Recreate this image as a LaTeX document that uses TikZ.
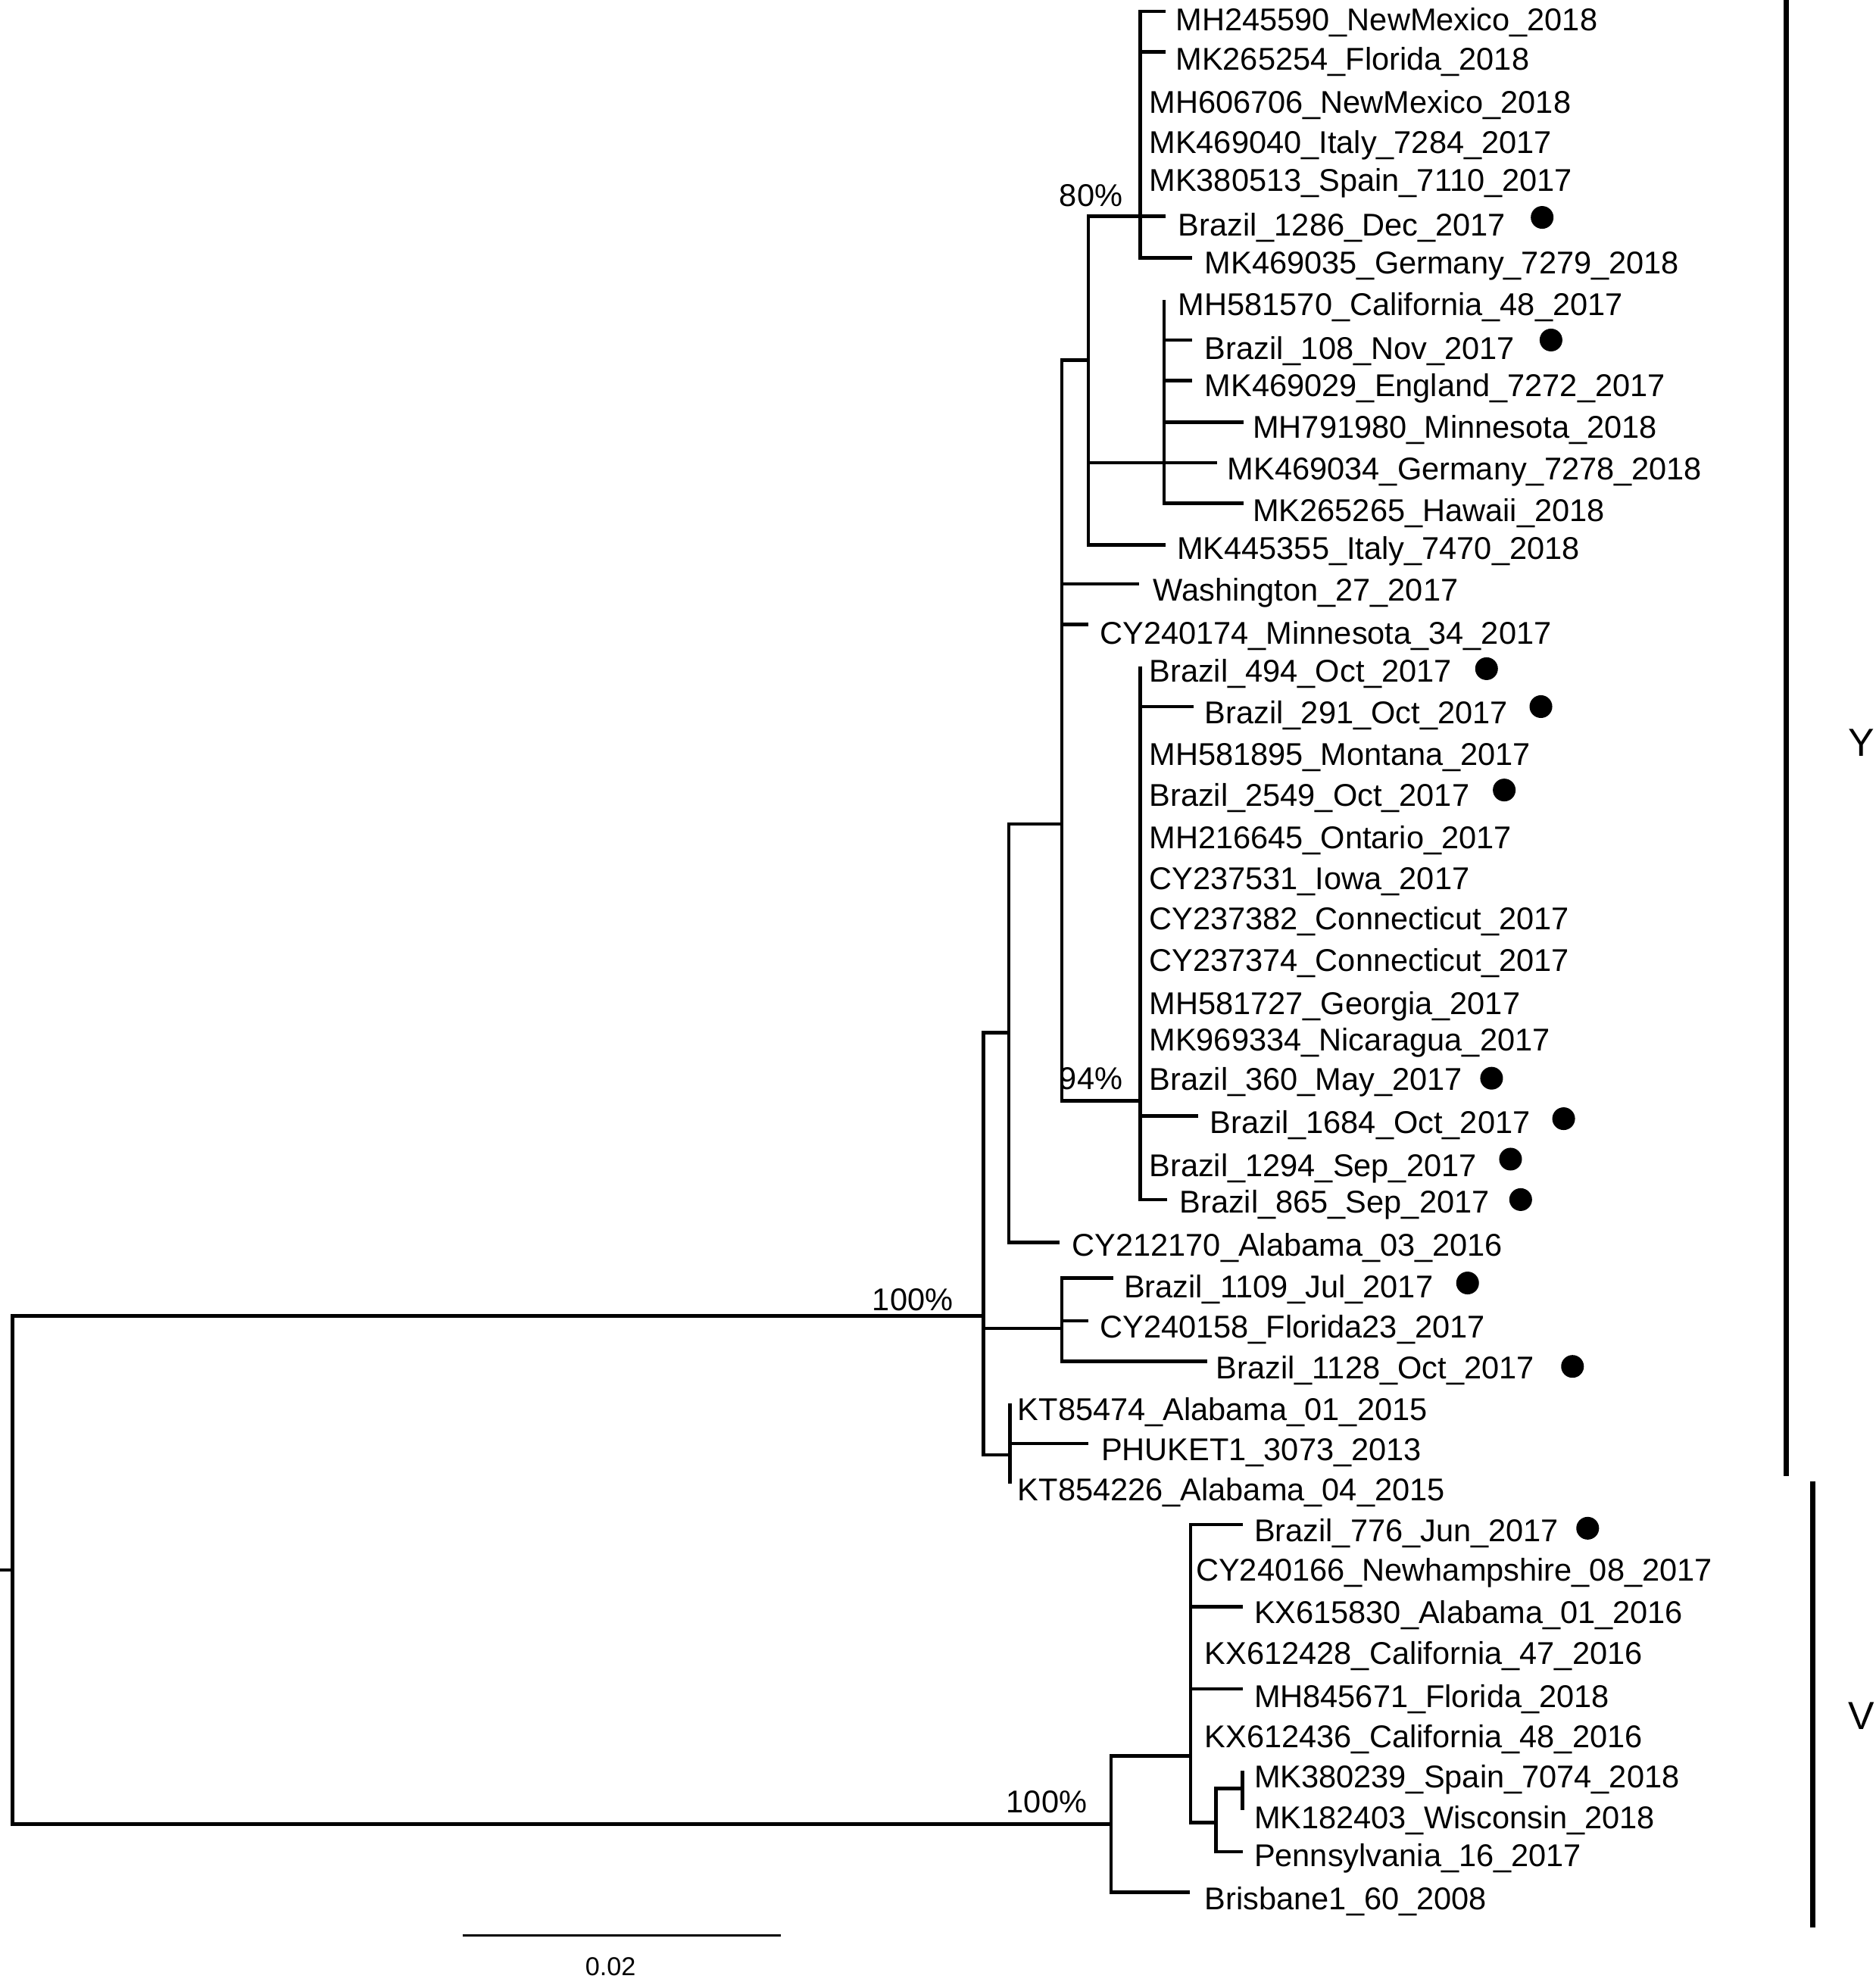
\documentclass[tikz,border=0pt]{standalone}
\usepackage{fontspec}
\setmainfont{Liberation Sans}
\newcommand\lbl[4]{\node[lab] (#1) at (#2,#3+8.5) {#4};}
\begin{document}
\begin{tikzpicture}[x=1pt,y=-1pt,
  br/.style={line width=2.7pt},
  bar/.style={line width=3.8pt},
  lab/.style={inner sep=0pt, anchor=base west, font=\fontsize{24.9}{29}\selectfont},
  pct/.style={inner sep=0pt, anchor=base west, font=\fontsize{24.9}{29}\selectfont},
  clade/.style={inner sep=0pt, anchor=base west, font=\fontsize{31}{36}\selectfont},
  sclab/.style={inner sep=0pt, anchor=base, font=\fontsize{20.5}{24}\selectfont},
  dot/.style={circle, fill=black, inner sep=0pt, minimum size=18pt}]
\useasboundingbox (0,0) rectangle (1484,1568);
\fill[white] (0,0) rectangle (1484,1568);

% internal nodes and leaf tips
\coordinate (rs) at (0,1242);
\coordinate (root) at (10,1242);
\coordinate (nY) at (778,1041);
\coordinate (nV) at (879,1443);
\coordinate (nY1) at (798,817);
\coordinate (nB) at (840,1051);
\coordinate (nKT) at (799,1151);
\coordinate (nY2) at (840,652);
\coordinate (lCY212170) at (838,983);
\coordinate (nA) at (861,285);
\coordinate (lWash) at (901,462);
\coordinate (lCY240174) at (861,494);
\coordinate (n94) at (902,871);
\coordinate (nA1) at (902,171);
\coordinate (nA2) at (921,366);
\coordinate (lMK445355) at (922,431);
\coordinate (lMH245590) at (922,9);
\coordinate (lMK265254) at (922,41);
\coordinate (lB1286) at (922,171);
\coordinate (lMK469035) at (943,204);
\coordinate (lMH581570) at (921,237);
\coordinate (lB108) at (943,269);
\coordinate (lMK469029) at (943,301);
\coordinate (lMH791980) at (984,334);
\coordinate (lMK469034) at (963,366);
\coordinate (lMK265265) at (984,398);
\coordinate (lB494) at (902,527);
\coordinate (lB291) at (944,559);
\coordinate (lB1684) at (948,883);
\coordinate (lB865) at (923,949);
\coordinate (lB1109) at (881,1011);
\coordinate (lCY240158) at (861,1045);
\coordinate (lB1128) at (955,1077);
\coordinate (lKT85474) at (799,1110);
\coordinate (lPHUKET) at (861,1142);
\coordinate (lKT854226) at (799,1174);
\coordinate (nV1) at (942,1389);
\coordinate (lBrisbane) at (941,1497);
\coordinate (lB776) at (983,1206);
\coordinate (lKX615830) at (983,1271);
\coordinate (lMH845671) at (983,1336);
\coordinate (nV2) at (962,1442);
\coordinate (nV3) at (983,1415);
\coordinate (lPenn) at (983,1465);
\coordinate (lMK380239) at (983,1401);
\coordinate (lMK182403) at (983,1432);

% branches
\draw[br] (rs) -- (root);
\draw[br] (root) |- (nY);
\draw[br] (root) |- (nV);
\draw[br] (nY) |- (nY1);
\draw[br] (nY) |- (nB);
\draw[br] (nY) |- (nKT);
\draw[br] (nY1) |- (nY2);
\draw[br] (nY1) |- (lCY212170);
\draw[br] (nY2) |- (nA);
\draw[br] (nY2) |- (lWash);
\draw[br] (nY2) |- (lCY240174);
\draw[br] (nY2) |- (n94);
\draw[br] (nA) |- (nA1);
\draw[br] (nA) |- (nA2);
\draw[br] (nA) |- (lMK445355);
\draw[br] (nA1) |- (lMH245590);
\draw[br] (nA1) |- (lMK265254);
\draw[br] (nA1) |- (lB1286);
\draw[br] (nA1) |- (lMK469035);
\draw[br] (nA2) -- (lMH581570);
\draw[br] (nA2) |- (lB108);
\draw[br] (nA2) |- (lMK469029);
\draw[br] (nA2) |- (lMH791980);
\draw[br] (nA2) |- (lMK469034);
\draw[br] (nA2) |- (lMK265265);
\draw[br] (n94) -- (lB494);
\draw[br] (n94) |- (lB291);
\draw[br] (n94) |- (lB1684);
\draw[br] (n94) |- (lB865);
\draw[br] (nB) |- (lB1109);
\draw[br] (nB) |- (lCY240158);
\draw[br] (nB) |- (lB1128);
\draw[br] (nKT) -- (lKT85474);
\draw[br] (nKT) |- (lPHUKET);
\draw[br] (nKT) -- (lKT854226);
\draw[br] (nV) |- (nV1);
\draw[br] (nV) |- (lBrisbane);
\draw[br] (nV1) |- (lB776);
\draw[br] (nV1) |- (lKX615830);
\draw[br] (nV1) |- (lMH845671);
\draw[br] (nV1) |- (nV2);
\draw[br] (nV2) |- (nV3);
\draw[br] (nV2) |- (lPenn);
\draw[br] (nV3) -- (lMK380239);
\draw[br] (nV3) -- (lMK182403);

% labels
\lbl{tMH245590}{930}{16}{MH245590\_NewMexico\_2018}
\lbl{tMK265254}{930}{47}{MK265254\_Florida\_2018}
\lbl{tMH606706}{909}{81}{MH606706\_NewMexico\_2018}
\lbl{tMK469040}{909}{113}{MK469040\_Italy\_7284\_2017}
\lbl{tMK380513}{909}{143}{MK380513\_Spain\_7110\_2017}
\lbl{tB1286}{932}{178}{Brazil\_1286\_Dec\_2017}
\lbl{tMK469035}{953}{208}{MK469035\_Germany\_7279\_2018}
\lbl{tMH581570}{932}{241}{MH581570\_California\_48\_2017}
\lbl{tB108}{953}{276}{Brazil\_108\_Nov\_2017}
\lbl{tMK469029}{953}{305}{MK469029\_England\_7272\_2017}
\lbl{tMH791980}{991}{338}{MH791980\_Minnesota\_2018}
\lbl{tMK469034}{971}{371}{MK469034\_Germany\_7278\_2018}
\lbl{tMK265265}{991}{404}{MK265265\_Hawaii\_2018}
\lbl{tMK445355}{931}{434}{MK445355\_Italy\_7470\_2018}
\lbl{tWash}{912}{467}{Washington\_27\_2017}
\lbl{tCY240174}{870}{501}{CY240174\_Minnesota\_34\_2017}
\lbl{tB494}{909}{531}{Brazil\_494\_Oct\_2017}
\lbl{tB291}{953}{564}{Brazil\_291\_Oct\_2017}
\lbl{tMH581895}{909}{597}{MH581895\_Montana\_2017}
\lbl{tB2549}{909}{629}{Brazil\_2549\_Oct\_2017}
\lbl{tMH216645}{909}{663}{MH216645\_Ontario\_2017}
\lbl{tCY237531}{909}{695}{CY237531\_Iowa\_2017}
\lbl{tCY237382}{909}{727}{CY237382\_Connecticut\_2017}
\lbl{tCY237374}{909}{760}{CY237374\_Connecticut\_2017}
\lbl{tMH581727}{909}{794}{MH581727\_Georgia\_2017}
\lbl{tMK969334}{909}{823}{MK969334\_Nicaragua\_2017}
\lbl{tB360}{909}{854}{Brazil\_360\_May\_2017}
\lbl{tB1684}{957}{888}{Brazil\_1684\_Oct\_2017}
\lbl{tB1294}{909}{922}{Brazil\_1294\_Sep\_2017}
\lbl{tB865}{933}{951}{Brazil\_865\_Sep\_2017}
\lbl{tCY212170}{848}{985}{CY212170\_Alabama\_03\_2016}
\lbl{tB1109}{889}{1018}{Brazil\_1109\_Jul\_2017}
\lbl{tCY240158}{870}{1050}{CY240158\_Florida23\_2017}
\lbl{tB1128}{962}{1082}{Brazil\_1128\_Oct\_2017}
\lbl{tKT85474}{805}{1115}{KT85474\_Alabama\_01\_2015}
\lbl{tPHUKET}{871}{1147}{PHUKET1\_3073\_2013}
\lbl{tKT854226}{805}{1179}{KT854226\_Alabama\_04\_2015}
\lbl{tB776}{992}{1211}{Brazil\_776\_Jun\_2017}
\lbl{tCY240166}{946}{1242}{CY240166\_Newhampshire\_08\_2017}
\lbl{tKX615830}{992}{1276}{KX615830\_Alabama\_01\_2016}
\lbl{tKX612428}{953}{1308}{KX612428\_California\_47\_2016}
\lbl{tMH845671}{992}{1342}{MH845671\_Florida\_2018}
\lbl{tKX612436}{953}{1374}{KX612436\_California\_48\_2016}
\lbl{tMK380239}{992}{1406}{MK380239\_Spain\_7074\_2018}
\lbl{tMK182403}{992}{1438}{MK182403\_Wisconsin\_2018}
\lbl{tPenn}{992}{1468}{Pennsylvania\_16\_2017}
\lbl{tBrisbane}{953}{1502}{Brisbane1\_60\_2008}

% markers for Brazilian samples
\node[dot] (d1286) at (1220,172) {};
\node[dot] (d108) at (1227,269) {};
\node[dot] (d494) at (1176,529) {};
\node[dot] (d291) at (1219,559) {};
\node[dot] (d2549) at (1190,625) {};
\node[dot] (d360) at (1180,853) {};
\node[dot] (d1684) at (1237,885) {};
\node[dot] (d1294) at (1195,917) {};
\node[dot] (d865) at (1203,949) {};
\node[dot] (d1109) at (1161,1015) {};
\node[dot] (d1128) at (1244,1081) {};
\node[dot] (d776) at (1256,1209) {};

% support values
\node[pct] (p80) at (838,163) {80\%};
\node[pct] (p94) at (838,862) {94\%};
\node[pct] (p100a) at (690,1037) {100\%};
\node[pct] (p100b) at (796,1434) {100\%};

% clade bars
\coordinate (yb1) at (1413,0);
\coordinate (yb2) at (1413,1168);
\coordinate (vb1) at (1434,1172);
\coordinate (vb2) at (1434,1525);
\draw[bar] (yb1) -- (yb2);
\draw[bar] (vb1) -- (vb2);
\node[clade] (cY) at (1462,598) {Y};
\node[clade] (cV) at (1462,1368) {V};

% scale bar
\coordinate (sbl) at (366,1531);
\coordinate (sbr) at (618,1531);
\draw[line width=1.8pt] (sbl) -- (sbr);
\node[sclab] (sbt) at (483,1563) {0.02};
\end{tikzpicture}
\end{document}
